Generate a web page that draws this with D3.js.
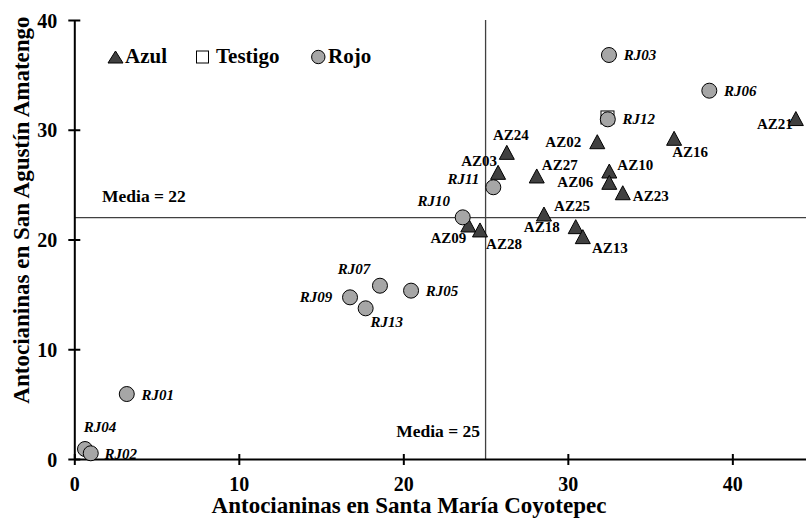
<!DOCTYPE html>
<html>
<head>
<meta charset="utf-8">
<script src="https://cdn.jsdelivr.net/npm/d3@7/dist/d3.min.js"></script>
<style>
  html, body { margin: 0; padding: 0; background: #fff; }
  svg { display: block; }
  text { font-family: "Liberation Serif", "Times New Roman", serif; font-weight: bold; fill: #000; }
</style>
</head>
<body>
<svg id="chart" width="806" height="520"></svg>
<script>
// ---- data ----
const xTicks = [0, 10, 20, 30, 40];
const yTicks = [0, 10, 20, 30, 40];
const mediaX = 25;
const mediaY = 22;
const xTitle = "Antocianinas en Santa María Coyotepec";
const yTitle = "Antocianinas en San Agustín Amatengo";
const legendNames = ["Azul", "Testigo", "Rojo"];

const azulNames = ["AZ24", "AZ02", "AZ16", "AZ03", "AZ27", "AZ10", "AZ06", "AZ23", "AZ25", "AZ18", "AZ09", "AZ28", "AZ13", "AZ21"];
const azulX = [26.29, 31.79, 36.46, 25.76, 28.11, 32.52, 32.52, 33.34, 28.55, 30.48, 23.95, 24.66, 30.91, 43.86];
const azulY = [27.94, 28.91, 29.22, 26.12, 25.79, 26.24, 25.21, 24.26, 22.32, 21.17, 21.32, 20.87, 20.26, 31.02];

const testigoX = [32.41];
const testigoY = [31.12];

const rojoNames = ["RJ03", "RJ06", "RJ12", "RJ11", "RJ10", "RJ07", "RJ05", "RJ09", "RJ13", "RJ01", "RJ04", "RJ02"];
const rojoX = [32.5, 38.6, 32.43, 25.47, 23.61, 18.58, 20.47, 16.76, 17.71, 3.19, 0.65, 1.0];
const rojoY = [36.81, 33.56, 30.95, 24.76, 22.02, 15.79, 15.34, 14.73, 13.73, 5.92, 0.91, 0.52];

// ---- label placement (pixel offsets of label centre from marker) ----
const azulLabelOffset = [[4,-17],[-34,0],[16,14],[-19,-11],[23,-11],[26,-6],[-34,0],[28,3],[28,-8],[-34,0],[-20,13],[24,14],[27,11],[-21,5]];
const rojoLabelOffset = [[31,0],[31,0],[31,0],[-30,-8],[-29,-16],[-26,-17],[31,0],[-34,0],[21,14],[31,1],[15,-22],[30,1]];

// ---- layout ----
const svg = d3.select("#chart");
const x = d3.scaleLinear().domain([0, 45]).range([74.3, 814.6]);
const y = d3.scaleLinear().domain([0, 40]).range([459, 20]);

const azul = azulNames.map((n, i) => ({name: n, x: azulX[i], y: azulY[i], off: azulLabelOffset[i]}));
const rojo = rojoNames.map((n, i) => ({name: n, x: rojoX[i], y: rojoY[i], off: rojoLabelOffset[i]}));
const testigo = testigoX.map((v, i) => ({x: v, y: testigoY[i]}));

const triPath = (w, h) => `M0,${-h/2}L${w/2},${h/2}L${-w/2},${h/2}Z`;

// media lines
svg.append("line")
  .attr("x1", x(mediaX)).attr("x2", x(mediaX))
  .attr("y1", y(40)).attr("y2", y(0))
  .attr("stroke", "#404040").attr("stroke-width", 1.3);
svg.append("line")
  .attr("x1", x(0)).attr("x2", 806)
  .attr("y1", y(mediaY)).attr("y2", y(mediaY))
  .attr("stroke", "#404040").attr("stroke-width", 1.3);

svg.append("text").attr("x", 102).attr("y", 202)
  .attr("font-size", 17.5).text("Media = " + mediaY);
svg.append("text").attr("x", 480).attr("y", 437).attr("text-anchor", "end")
  .attr("font-size", 17.5).text("Media = " + mediaX);

// axes
const gx = svg.append("g").attr("transform", `translate(0,${y(0)})`)
  .call(d3.axisBottom(x).tickValues(xTicks).tickFormat(d3.format("d")).tickSizeOuter(0));
gx.select(".domain").attr("stroke", "#000").attr("stroke-width", 2);
gx.selectAll(".tick line").attr("y1", -5).attr("y2", 6).attr("stroke", "#000").attr("stroke-width", 2);
gx.selectAll(".tick text").attr("y", 0).attr("dy", 0).attr("transform", "translate(0,32)")
  .attr("font-size", 20).attr("font-family", null).attr("fill", "#000");

const gy = svg.append("g").attr("transform", `translate(${x(0)},0)`)
  .call(d3.axisLeft(y).tickValues(yTicks).tickFormat(d3.format("d")).tickSizeOuter(0));
gy.select(".domain").attr("stroke", "#000").attr("stroke-width", 2);
gy.selectAll(".tick line").attr("x1", -6).attr("x2", 6).attr("stroke", "#000").attr("stroke-width", 2);
gy.selectAll(".tick text").attr("x", -17).attr("dy", 7)
  .attr("font-size", 20).attr("font-family", null).attr("fill", "#000");
svg.selectAll("g").attr("font-family", null).attr("font-size", null);

// axis titles
svg.append("text").attr("x", 409).attr("y", 513).attr("text-anchor", "middle")
  .attr("font-size", 23).text(xTitle);
svg.append("text").attr("transform", "translate(29,210) rotate(-90)").attr("text-anchor", "middle")
  .attr("font-size", 23).text(yTitle);

// labels (drawn below markers)
svg.append("g").selectAll("text").data(azul).join("text")
  .attr("x", d => x(d.x) + d.off[0]).attr("y", d => y(d.y) + d.off[1])
  .attr("text-anchor", "middle").attr("dominant-baseline", "central")
  .attr("font-size", 15).text(d => d.name);
svg.append("g").selectAll("text").data(rojo).join("text")
  .attr("x", d => x(d.x) + d.off[0]).attr("y", d => y(d.y) + d.off[1])
  .attr("text-anchor", "middle").attr("dominant-baseline", "central")
  .attr("font-size", 15).attr("font-style", "italic").text(d => d.name);

// markers: Azul, Testigo, Rojo
svg.append("g").selectAll("path").data(azul).join("path")
  .attr("d", triPath(15, 14))
  .attr("transform", d => `translate(${x(d.x)},${y(d.y)})`)
  .attr("fill", "#404040").attr("stroke", "#000").attr("stroke-width", 1);
svg.append("g").selectAll("rect").data(testigo).join("rect")
  .attr("x", d => x(d.x) - 6.5).attr("y", d => y(d.y) - 6.5)
  .attr("width", 13).attr("height", 13)
  .attr("fill", "#fff").attr("stroke", "#000").attr("stroke-width", 1);
svg.append("g").selectAll("circle").data(rojo).join("circle")
  .attr("cx", d => x(d.x)).attr("cy", d => y(d.y)).attr("r", 7.5)
  .attr("fill", "#a6a6a6").attr("stroke", "#000").attr("stroke-width", 1);

// legend
const lg = svg.append("g");
lg.append("path").attr("d", triPath(15, 12)).attr("transform", "translate(115.5,57)")
  .attr("fill", "#404040").attr("stroke", "#000").attr("stroke-width", 1);
lg.append("text").attr("x", 125).attr("y", 63).attr("font-size", 21).text(legendNames[0]);
lg.append("rect").attr("x", 196.5).attr("y", 51).attr("width", 12).attr("height", 12)
  .attr("fill", "#fff").attr("stroke", "#000").attr("stroke-width", 1);
lg.append("text").attr("x", 216).attr("y", 63).attr("font-size", 21).text(legendNames[1]);
lg.append("circle").attr("cx", 318.3).attr("cy", 57).attr("r", 6.7)
  .attr("fill", "#a6a6a6").attr("stroke", "#000").attr("stroke-width", 1);
lg.append("text").attr("x", 328).attr("y", 63).attr("font-size", 21).text(legendNames[2]);
</script>
</body>
</html>
